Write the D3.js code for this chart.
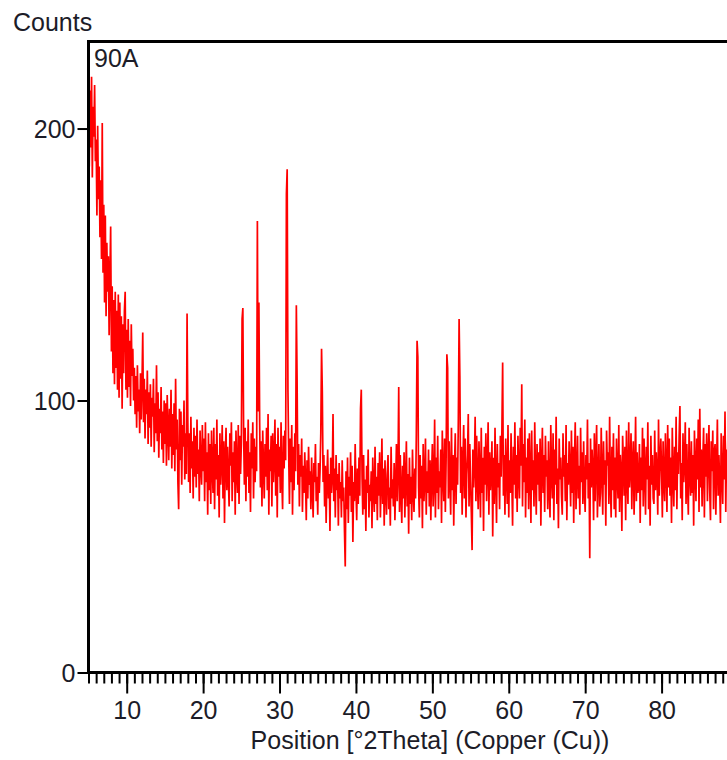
<!DOCTYPE html>
<html>
<head>
<meta charset="utf-8">
<script src="https://cdn.jsdelivr.net/npm/d3@7"></script>
<style>
  html, body { margin: 0; padding: 0; background: #fff; overflow: hidden; }
  svg { display: block; }
  text { font-family: "Liberation Sans", Arial, sans-serif; fill: #1c1c28; }
</style>
</head>
<body>
<svg id="chart" width="727" height="760"></svg>
<script>
// Diffractogram of sample 90A, Cu radiation.
const sampleName = "90A";
const startAngle = 5.0;   // first scan position, °2θ
const angleStep = 0.1;    // scan step, °2θ

// Measured counts, one row per degree (x.0 … x.9)
const counts = [
  205,186,214,193,219,182,208,197,216,188,
  196,168,201,174,186,160,181,152,202,147,
  172,136,168,131,158,140,153,124,145,164,
  118,142,110,137,106,140,112,133,104,139,
  101,136,108,131,97,128,110,133,140,104,
  126,101,130,105,122,98,128,109,119,100,
  112,95,109,90,113,96,104,88,110,93,
  106,125,92,108,86,104,95,111,84,103,
  90,106,83,101,94,108,81,99,88,113,
  85,103,79,97,88,105,82,96,77,100,
  84,99,76,102,90,78,97,83,104,75,
  95,80,99,74,108,82,93,70,60,97,
  78,96,69,91,83,100,71,88,73,132,
  92,70,88,66,94,75,85,64,90,72,
  87,68,93,73,82,63,89,76,69,91,
  74,86,63,92,70,81,58,88,67,84,
  62,89,75,66,90,60,84,71,93,65,
  80,57,88,69,77,91,64,85,55,79,
  90,67,83,72,61,88,76,92,63,81,
  70,85,58,89,74,66,91,62,87,73,
  84,130,134,88,69,90,63,85,72,93,
  66,81,59,88,75,92,64,86,70,83,
  74,166,96,136,92,68,85,61,89,76,
  64,84,72,90,67,95,58,82,74,87,
  61,88,70,79,93,65,84,57,90,72,
  83,66,92,71,60,87,75,89,78,176,
  185,104,80,62,86,70,91,58,83,67,
  88,74,135,107,69,84,61,80,72,86,
  59,76,66,81,71,56,78,64,83,69,
  74,60,79,67,57,77,70,84,63,72,
  58,77,66,74,88,119,103,70,80,61,
  76,55,71,82,64,73,52,79,66,72,
  95,63,75,57,80,67,73,54,77,64,
  70,57,78,63,68,52,39,74,60,79,
  55,72,65,81,59,76,48,70,63,84,
  68,56,75,62,79,65,97,104,72,58,
  80,60,71,52,76,66,82,57,69,63,
  74,53,79,67,59,83,62,72,56,77,
  65,81,57,70,86,62,75,54,78,67,
  58,73,80,60,68,54,83,64,71,61,
  77,56,69,84,63,74,105,59,80,66,
  55,76,64,81,57,71,85,61,73,51,
  79,62,72,56,82,67,59,75,64,87,
  122,116,68,57,80,64,76,53,84,63,
  71,86,58,74,66,82,61,78,56,73,
  84,61,70,93,57,79,66,87,60,74,
  68,82,55,89,72,63,86,59,78,117,
  112,64,85,71,58,90,67,80,54,76,
  88,62,79,69,93,130,109,66,83,58,
  77,91,64,86,57,73,80,95,61,84,
  70,59,45,82,68,76,94,63,87,71,
  60,85,74,57,90,66,79,52,83,69,
  88,63,76,92,58,81,67,74,85,50,
  79,62,90,71,55,84,68,77,60,87,
  72,89,114,65,80,58,86,73,62,91,
  57,78,66,88,71,54,83,69,92,64,
  80,59,87,73,64,90,76,106,61,84,
  70,93,57,79,66,86,60,88,74,55,
  89,67,78,61,92,72,58,84,69,81,
  63,86,54,77,90,66,80,59,87,72,
  78,60,85,68,57,91,73,64,88,56,
  82,69,94,62,75,53,86,71,79,65,
  58,88,72,80,63,91,56,77,69,85,
  74,61,89,66,83,55,78,92,60,73,
  87,64,76,58,90,70,81,62,85,67,
  59,80,71,93,64,77,42,86,68,82,
  75,56,88,63,79,91,57,72,84,61,
  66,90,73,58,85,69,78,54,89,76,
  81,62,94,70,57,83,67,88,60,79,
  57,86,72,64,91,59,80,74,52,87,
  78,65,83,56,89,71,62,92,68,75,
  88,60,77,85,58,73,94,63,81,66,
  69,84,55,79,67,90,61,86,74,58,
  83,71,92,60,76,54,87,69,80,64,
  62,89,67,81,73,58,93,65,78,86,
  74,57,85,70,63,88,76,59,91,68,
  86,65,79,55,90,72,61,83,67,94,
  60,81,73,87,98,64,77,56,88,70,
  77,92,62,84,69,58,90,73,65,85,
  66,80,54,89,75,63,86,71,93,59,
  97,68,82,61,78,90,57,84,72,88,
  63,79,91,67,56,85,74,89,60,81,
  84,58,76,93,65,80,70,55,88,73,
  62,87,71,96,59,82,75,90,66,84
];

const xDomain = [5, 90];
const yDomain = [0, 232];
const xMajorTicks = [10, 20, 30, 40, 50, 60, 70, 80];
const xMinorTicks = d3.range(5, 90, 1);
const yTicks = [0, 100, 200];
const xTitle = "Position [°2Theta] (Copper (Cu))";
const yTitle = "Counts";

const plot = { left: 88.5, top: 41.5, bottom: 672.5, right: 738 };
const fontSize = "25px";

const svg = d3.select("#chart");
const x = d3.scaleLinear().domain(xDomain).range([plot.left, plot.right]);
const y = d3.scaleLinear().domain(yDomain).range([plot.bottom, plot.top]);

// pattern trace
const points = counts.map((c, i) => [startAngle + i * angleStep, c]);
svg.append("path")
  .datum(points)
  .attr("fill", "none")
  .attr("stroke", "#ff0000")
  .attr("stroke-width", 1.7)
  .attr("stroke-linejoin", "bevel")
  .attr("d", d3.line().x(d => x(d[0])).y(d => y(d[1])));

// frame: left, top and bottom
const frame = svg.append("g").attr("stroke", "#000").attr("stroke-width", 3).attr("fill", "none");
frame.append("line").attr("x1", plot.left).attr("x2", plot.left).attr("y1", plot.top - 1.5).attr("y2", plot.bottom + 1.5);
frame.append("line").attr("x1", plot.left - 1.5).attr("x2", 727).attr("y1", plot.top).attr("y2", plot.top);
frame.append("line").attr("x1", plot.left - 1.5).attr("x2", 727).attr("y1", plot.bottom).attr("y2", plot.bottom);

// x axis: minor ticks every degree, major ticks with labels
const xMinor = svg.append("g").attr("transform", `translate(0,${plot.bottom + 1})`)
  .call(d3.axisBottom(x).tickValues(xMinorTicks).tickSize(10).tickFormat(""));
const xMajor = svg.append("g").attr("transform", `translate(0,${plot.bottom + 1})`)
  .call(d3.axisBottom(x).tickValues(xMajorTicks).tickSize(20).tickFormat(d3.format("d")));
[xMinor, xMajor].forEach(g => {
  g.attr("font-size", null).attr("font-family", null);
  g.select(".domain").remove();
  g.selectAll(".tick line").attr("stroke", "#000").attr("stroke-width", 2);
});
xMajor.selectAll(".tick text")
  .attr("y", 45).attr("dy", null)
  .style("font-size", fontSize).attr("fill", "#1c1c28");

// y axis
const yAxis = svg.append("g").attr("transform", `translate(${plot.left - 1},0)`)
  .call(d3.axisLeft(y).tickValues(yTicks).tickSize(10).tickPadding(2).tickFormat(d3.format("d")));
yAxis.select(".domain").remove();
yAxis.attr("font-size", null).attr("font-family", null);
yAxis.selectAll(".tick line").attr("stroke", "#000").attr("stroke-width", 2);
yAxis.selectAll(".tick text").style("font-size", fontSize).attr("fill", "#1c1c28").attr("dy", "0.36em");

// titles
svg.append("text").attr("x", 13).attr("y", 31).style("font-size", fontSize).text(yTitle);
svg.append("text").attr("x", 94).attr("y", 67).style("font-size", fontSize).text(sampleName);
svg.append("text").attr("x", 430).attr("y", 749).attr("text-anchor", "middle")
  .style("font-size", fontSize).text(xTitle);
</script>
</body>
</html>
